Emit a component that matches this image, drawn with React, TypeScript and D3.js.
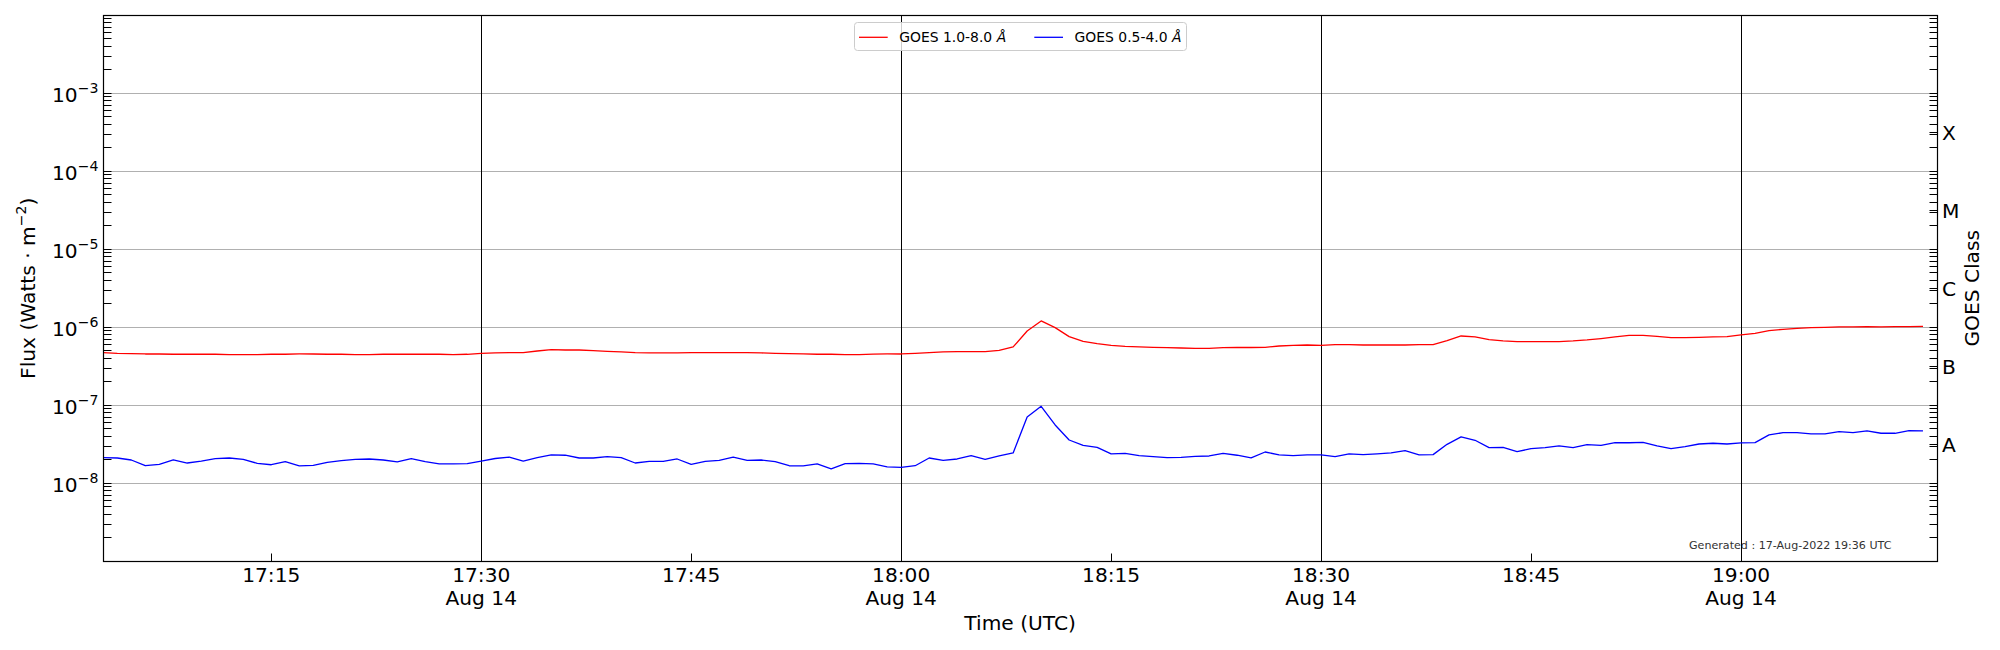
import React from 'react';
import * as d3 from 'd3';

// one-minute GOES samples, 17:03 - 19:13 UTC, 14 Aug 2022
const startMinute = Date.UTC(2022, 7, 14, 17, 3);
const endMinute = Date.UTC(2022, 7, 14, 19, 14);

// 1.0-8.0 A channel, in units of 1e-7 W/m^2
const longFlux = [
    4.73, 4.64, 4.60, 4.55, 4.55, 4.51, 4.51, 4.51, 4.51, 4.46,
    4.46, 4.46, 4.51, 4.51, 4.55, 4.55, 4.51, 4.51, 4.46, 4.46,
    4.51, 4.51, 4.51, 4.51, 4.51, 4.46, 4.51, 4.64, 4.69, 4.73,
    4.73, 4.97, 5.17, 5.12, 5.12, 5.02, 4.92, 4.83, 4.73, 4.69,
    4.69, 4.69, 4.73, 4.73, 4.73, 4.73, 4.73, 4.69, 4.64, 4.60,
    4.55, 4.51, 4.51, 4.46, 4.46, 4.53, 4.55, 4.55, 4.64, 4.73,
    4.83, 4.88, 4.88, 4.88, 5.07, 5.60, 8.97, 12.06, 9.90, 7.59,
    6.61, 6.18, 5.88, 5.71, 5.60, 5.54, 5.48, 5.43, 5.38, 5.38,
    5.48, 5.54, 5.51, 5.54, 5.76, 5.88, 5.93, 5.88, 5.99, 5.99,
    5.93, 5.93, 5.93, 5.93, 5.99, 5.99, 6.75, 7.74, 7.52, 6.95,
    6.68, 6.55, 6.55, 6.55, 6.55, 6.68, 6.88, 7.16, 7.52, 7.90,
    7.90, 7.67, 7.37, 7.37, 7.44, 7.52, 7.59, 7.98, 8.38, 9.06,
    9.43, 9.71, 9.90, 10.0, 10.1, 10.1, 10.2, 10.1, 10.2, 10.2,
    10.3,
];

// 0.5-4.0 A channel, in units of 1e-8 W/m^2
const shortFlux = [
    2.13, 2.11, 1.99, 1.68, 1.75, 1.99, 1.82, 1.93, 2.07, 2.11,
    2.03, 1.80, 1.73, 1.90, 1.67, 1.70, 1.86, 1.95, 2.03, 2.05,
    1.99, 1.88, 2.07, 1.90, 1.77, 1.77, 1.79, 1.93, 2.08, 2.17,
    1.93, 2.13, 2.31, 2.29, 2.11, 2.11, 2.20, 2.13, 1.82, 1.91,
    1.91, 2.05, 1.75, 1.91, 1.97, 2.17, 1.97, 1.99, 1.90, 1.68,
    1.67, 1.77, 1.53, 1.79, 1.80, 1.77, 1.62, 1.60, 1.68, 2.11,
    1.97, 2.05, 2.26, 2.03, 2.24, 2.45, 7.08, 9.71, 5.60, 3.59,
    3.07, 2.89, 2.38, 2.42, 2.26, 2.20, 2.13, 2.15, 2.22, 2.24,
    2.42, 2.29, 2.12, 2.52, 2.31, 2.26, 2.31, 2.31, 2.20, 2.38,
    2.33, 2.38, 2.45, 2.62, 2.31, 2.33, 3.16, 3.93, 3.56, 2.87,
    2.89, 2.55, 2.78, 2.87, 3.01, 2.87, 3.13, 3.07, 3.32, 3.31,
    3.35, 3.01, 2.78, 2.95, 3.19, 3.26, 3.19, 3.29, 3.32, 4.17,
    4.46, 4.46, 4.29, 4.29, 4.59, 4.46, 4.69, 4.38, 4.38, 4.73,
    4.69,
];

const seriesNames = ['GOES 1.0-8.0 ', 'GOES 0.5-4.0 '];
const seriesColors = ['#ff0000', '#0000ff'];
const decadeExponents = [-8, -7, -6, -5, -4, -3];
const classLabels = ['A', 'B', 'C', 'M', 'X'];
const majorTimes = ['17:30', '18:00', '18:30', '19:00'];
const minorTimes = ['17:15', '17:45', '18:15', '18:45'];
const dayLabel = 'Aug 14';
const generatedNote = 'Generated : 17-Aug-2022 19:36 UTC';

const FONT = 'DejaVu Sans';
const width = 2000;
const height = 650;
const plot = { left: 103.3, right: 1937, top: 15.3, bottom: 561.3 };

const toDate = (hhmm: string) => {
    const [h, m] = hhmm.split(':').map(Number);
    return new Date(Date.UTC(2022, 7, 14, h, m));
};

// snap a 1px line onto a pixel centre so it stays crisp
const crisp = (v: number) => Math.round(v - 0.5) + 0.5;

const App: React.FC = () => {
    const x = d3.scaleUtc()
        .domain([new Date(startMinute), new Date(endMinute)])
        .range([plot.left, plot.right]);
    const y = d3.scaleLog().domain([1e-9, 1e-2]).range([plot.bottom, plot.top]);

    const timeAt = (i: number) => new Date(startMinute + i * 60000);
    const line = d3.line<number>()
        .x((_, i) => x(timeAt(i)))
        .y(d => y(d));

    const series = [
        longFlux.map(v => v * 1e-7),
        shortFlux.map(v => v * 1e-8),
    ];

    // minor log ticks 2..9 for every decade inside the axis
    const minorTicks: number[] = [];
    for (let e = -9; e < -2; e++) {
        for (let k = 2; k <= 9; k++) minorTicks.push(k * Math.pow(10, e));
    }
    const majorTicks = [-9, ...decadeExponents, -2].map(e => Math.pow(10, e));
    const classCenters = classLabels.map((_, i) => Math.pow(10, -7.5 + i));

    const tickLen = 8;
    const fontSize = 20.2;
    const supSize = 14.1;
    const L = crisp(plot.left);
    const R = crisp(plot.right);
    const T = crisp(plot.top);
    const B = crisp(plot.bottom);

    return (
        <div style={{ position: 'absolute', left: 0, top: 0 }}>
            <svg width={width} height={height} style={{ display: 'block', background: '#fff' }}
                fontFamily={FONT}>
                {/* horizontal grid at decades */}
                {decadeExponents.map(e => (
                    <line key={e} x1={L} x2={R}
                        y1={crisp(y(Math.pow(10, e)))} y2={crisp(y(Math.pow(10, e)))}
                        stroke="#b0b0b0" strokeWidth={1} />
                ))}

                <text x={1689} y={549} fontSize={11.1} fill="#333">{generatedNote}</text>

                {/* vertical lines at major time ticks */}
                {majorTimes.map(t => (
                    <line key={t} x1={crisp(x(toDate(t)))} x2={crisp(x(toDate(t)))} y1={T} y2={B}
                        stroke="#000" strokeWidth={1} />
                ))}

                {series.map((s, i) => (
                    <path key={i} d={line(s) || ''} fill="none" stroke={seriesColors[i]}
                        strokeWidth={1.3} strokeLinejoin="round" />
                ))}

                {/* frame */}
                <rect x={L} y={T} width={R - L} height={B - T} fill="none" stroke="#000" strokeWidth={1.2} />

                {/* left and right y ticks */}
                {[...majorTicks, ...minorTicks].map((v, i) => (
                    <g key={i}>
                        <line x1={L} x2={L + tickLen} y1={crisp(y(v))} y2={crisp(y(v))} stroke="#000" />
                        <line x1={R} x2={R - tickLen} y1={crisp(y(v))} y2={crisp(y(v))} stroke="#000" />
                    </g>
                ))}
                {classCenters.map((v, i) => (
                    <line key={i} x1={R} x2={R - tickLen} y1={crisp(y(v))} y2={crisp(y(v))} stroke="#000" />
                ))}

                {/* y tick labels */}
                {decadeExponents.map(e => (
                    <text key={e} x={98.5} y={y(Math.pow(10, e)) + 8.4} textAnchor="end" fontSize={fontSize}>
                        <tspan>10</tspan>
                        <tspan dy={-8.6} fontSize={supSize}>{'\u2212' + Math.abs(e)}</tspan>
                    </text>
                ))}

                {/* GOES class labels */}
                {classCenters.map((v, i) => (
                    <text key={i} x={1942} y={y(v) + 7.4} fontSize={fontSize}>{classLabels[i]}</text>
                ))}

                {/* x ticks */}
                {minorTimes.map(t => (
                    <g key={t}>
                        <line x1={crisp(x(toDate(t)))} x2={crisp(x(toDate(t)))} y1={B} y2={B - tickLen}
                            stroke="#000" />
                        <text x={x(toDate(t))} y={582} textAnchor="middle" fontSize={fontSize}>{t}</text>
                    </g>
                ))}
                {majorTimes.map(t => (
                    <text key={t} x={x(toDate(t))} y={582} textAnchor="middle" fontSize={fontSize}>
                        <tspan x={x(toDate(t))}>{t}</tspan>
                        <tspan x={x(toDate(t))} dy={22.6}>{dayLabel}</tspan>
                    </text>
                ))}

                {/* axis titles */}
                <text x={(plot.left + plot.right) / 2} y={630} textAnchor="middle" fontSize={fontSize}>
                    Time (UTC)
                </text>
                <text transform={`translate(34.5,${(plot.top + plot.bottom) / 2}) rotate(-90)`}
                    textAnchor="middle" fontSize={fontSize}>
                    <tspan>Flux (Watts · m</tspan>
                    <tspan dy={-8.4} fontSize={supSize}>−2</tspan>
                    <tspan dy={8.4}>)</tspan>
                </text>
                <text transform={`translate(1978.5,${(plot.top + plot.bottom) / 2}) rotate(-90)`}
                    textAnchor="middle" fontSize={fontSize}>
                    GOES Class
                </text>

                {/* legend */}
                <rect x={854.5} y={22.5} width={332} height={28} rx={3} fill="#fff" fillOpacity={0.8}
                    stroke="#cccccc" strokeWidth={1} />
                {seriesNames.map((name, i) => {
                    const lx = i === 0 ? 859 : 1034.3;
                    return (
                        <g key={name}>
                            <line x1={lx} x2={lx + 28.7} y1={37.3} y2={37.3} stroke={seriesColors[i]}
                                strokeWidth={1.3} />
                            <text x={lx + 40.3} y={42.3} fontSize={13.9}>
                                {name}<tspan fontStyle="italic">Å</tspan>
                            </text>
                        </g>
                    );
                })}
            </svg>
        </div>
    );
};

export default App;
